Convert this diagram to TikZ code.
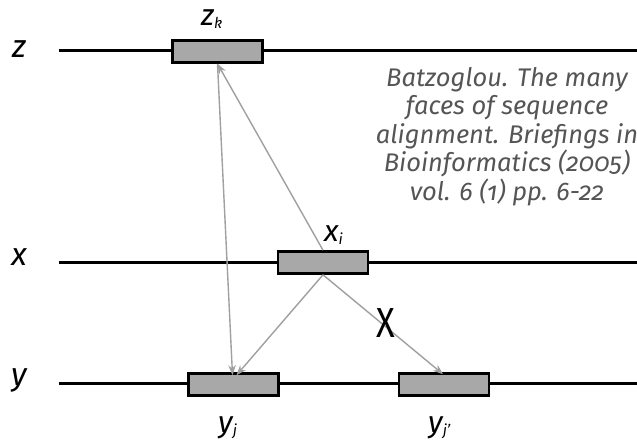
\documentclass[tikz,border=0pt]{standalone}
\usepackage{fontspec}
\setmainfont{Fira Sans}[Numbers=OldStyle]
\usetikzlibrary{arrows.meta}
\definecolor{boxgray}{HTML}{A8A8A8}
\definecolor{arrgray}{HTML}{A0A0A0}
\definecolor{txtgray}{HTML}{555555}
\tikzset{
  seqline/.style={line width=3pt, black},
  segbox/.style={draw=black, fill=boxgray, line width=2.6pt, minimum width=90pt, minimum height=22pt, inner sep=0pt},
  rowlab/.style={font=\fontsize{32}{33}\selectfont\itshape, inner sep=0pt, anchor=base},
  lab/.style={font=\fontsize{30}{31}\selectfont\itshape, inner sep=0pt, anchor=base west},
  conn/.style={draw=arrgray, line width=1.4pt, -{Stealth[length=10pt,width=7.5pt]}}
}
\newcommand{\subsc}[1]{\textsubscript{\fontsize{15}{15}\selectfont #1}}
\begin{document}
\begin{tikzpicture}[x=1pt,y=-1pt]
\useasboundingbox (0,0) rectangle (637,442);
\fill[white] (0,0) rectangle (637,442);
% sequence lines
\coordinate (zl) at (59,50); \coordinate (zr) at (640,50);
\coordinate (xl) at (59,262); \coordinate (xr) at (640,262);
\coordinate (yl) at (59,383); \coordinate (yr) at (640,383);
\draw[seqline] (zl) -- (zr);
\draw[seqline] (xl) -- (xr);
\draw[seqline] (yl) -- (yr);
% row labels
\node[rowlab] (lz) at (19,57) {z};
\node[rowlab] (lx) at (19,265) {x};
\node[rowlab] (ly) at (19,385) {y};
% segments
\node[segbox] (zk) at (217.5,51.5) {};
\node[segbox] (xi) at (323,262.5) {};
\node[segbox] (yj) at (233.5,384.5) {};
\node[segbox] (yjp) at (444,384.5) {};
% segment labels
\node[lab] (lzk) at (201,25) {z\subsc{k}};
\node[lab] (lxi) at (324,241) {x\subsc{i}};
\node[lab] (lyj) at (218,432) {y\subsc{j}};
\node[lab] (lyjp) at (428,432) {y\subsc{j'}};
% connectors
\draw[conn] (xi.north) -- (zk.south);
\draw[conn] (zk.south) -- ([xshift=-1pt,yshift=-3pt]yj.north);
\draw[conn] (xi.south) -- ([xshift=3pt,yshift=-3pt]yj.north);
\draw[conn] (xi.south) -- ([xshift=-1pt,yshift=-2pt]yjp.north);
% cross mark
\node[font=\fontsize{30}{30}\selectfont, inner sep=0pt, xscale=1.15, yscale=1.4, transform shape] (cross) at (386,323) {X};
% citation
\node[align=center, text=txtgray, font=\fontsize{25.5}{28.5}\selectfont\itshape, inner sep=0pt, anchor=north] (cite) at (507,67)
  {Batzoglou. The many\\faces of sequence\\alignment. Briefings in\\Bioinformatics (2005)\\vol. 6 (1) pp. 6-22};
\end{tikzpicture}
\end{document}
